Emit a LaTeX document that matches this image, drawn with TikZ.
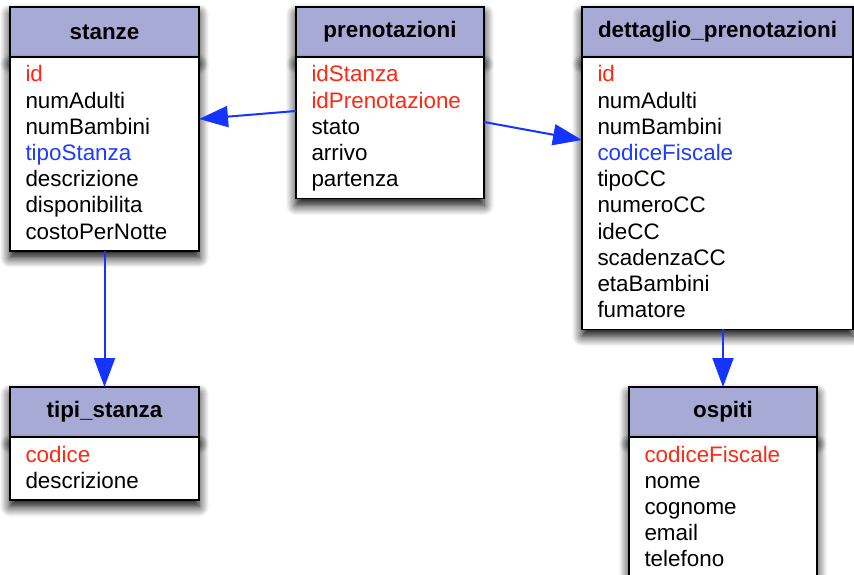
\documentclass[tikz,border=0pt]{standalone}
\usepackage{fontspec}
\setmainfont{Liberation Sans}
\usetikzlibrary{arrows.meta,positioning,shadows.blur}

\definecolor{headblue}{RGB}{168,170,214}
\definecolor{keyred}{RGB}{252,42,20}
\definecolor{refblue}{RGB}{30,60,255}
\definecolor{linkblue}{RGB}{22,52,255}
\newcommand{\keyf}[1]{\textcolor{keyred}{#1}}
\newcommand{\reff}[1]{\textcolor{refblue}{#1}}
\newcommand{\firstrow}{\rule{0pt}{25pt}}
\newcommand{\lastrow}{\rule[-11.5pt]{0pt}{11.5pt}}

\begin{document}
\begin{tikzpicture}[x=1pt,y=-1pt,
	font=\fontsize{22.4}{26.2}\selectfont,
	tablehead/.style={draw,line width=1.6pt,fill=headblue,outer sep=0pt,inner sep=0pt,
		minimum height=50pt,anchor=north west,font=\fontsize{22.4}{26.2}\selectfont\bfseries,
		blur shadow={shadow xshift=0pt,shadow yshift=-7pt,shadow blur radius=10pt,shadow blur steps=8,shadow opacity=100}},
	tablebody/.style={draw,line width=1.6pt,fill=white,outer sep=0pt,inner xsep=15.5pt,inner ysep=0pt,
		align=left,
		blur shadow={shadow xshift=0pt,shadow yshift=-7pt,shadow blur radius=10pt,shadow blur steps=8,shadow opacity=100}},
	link/.style={draw=linkblue,line width=2pt,-{Triangle[length=29pt,width=21pt]}}]
	\clip (0,0) rectangle (854,575);
	% stanze
	\node[tablehead,minimum width=189pt] (stanzeH) at (10,7) {stanze};
	\node[tablebody,text width=158pt,below=0pt of stanzeH] (stanzeB) {\firstrow\keyf{id}\\numAdulti\\numBambini\\\reff{tipoStanza}\\descrizione\\disponibilita\\costoPerNotte\lastrow};
	% prenotazioni
	\node[tablehead,minimum width=188pt] (prenH) at (296,7) {prenotazioni};
	\node[tablebody,text width=157pt,below=0pt of prenH] (prenB) {\firstrow\keyf{idStanza}\\\keyf{idPrenotazione}\\stato\\arrivo\\partenza\lastrow};
	% dettaglio_prenotazioni
	\node[tablehead,minimum width=271pt] (dettH) at (582,7) {dettaglio\_prenotazioni};
	\node[tablebody,text width=240pt,below=0pt of dettH] (dettB) {\firstrow\keyf{id}\\numAdulti\\numBambini\\\reff{codiceFiscale}\\tipoCC\\numeroCC\\ideCC\\scadenzaCC\\etaBambini\\fumatore\lastrow};
	% tipi_stanza
	\node[tablehead,minimum width=189pt] (tipiH) at (10,387) {tipi\_stanza};
	\node[tablebody,text width=158pt,below=0pt of tipiH] (tipiB) {\firstrow\keyf{codice}\\descrizione\lastrow};
	% ospiti
	\node[tablehead,minimum width=188pt] (ospitiH) at (629,387) {ospiti};
	\node[tablebody,text width=157pt,below=0pt of ospitiH] (ospitiB) {\firstrow\keyf{codiceFiscale}\\nome\\cognome\\email\\telefono\lastrow};
	% links
	\draw[link] ([yshift=-54pt]prenB.north west) -- ([yshift=-62pt]stanzeB.north east);
	\draw[link] ([yshift=-65pt]prenB.north east) -- ([yshift=-83pt]dettB.north west);
	\draw[link] (stanzeB.south) -- (tipiH.north);
	\draw[link] (dettB.south -| ospitiH.north) -- (ospitiH.north);
\end{tikzpicture}
\end{document}
